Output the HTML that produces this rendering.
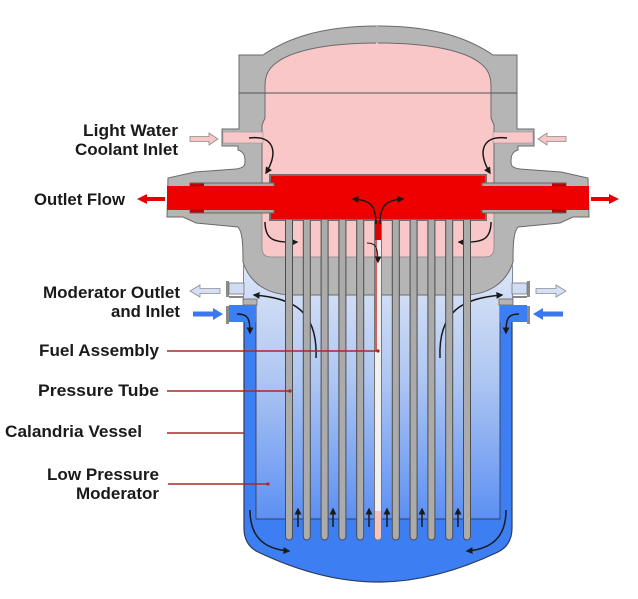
<!DOCTYPE html>
<html><head><meta charset="utf-8"><style>
html,body{margin:0;padding:0;background:#fff;}
svg{display:block;}
text{font-family:"Liberation Sans",Arial,sans-serif;font-weight:bold;font-size:17px;fill:#1a1a1a;}
</style></head><body>
<svg width="638" height="599" viewBox="0 0 638 599" xmlns="http://www.w3.org/2000/svg">
<defs>
<linearGradient id="mod" gradientUnits="userSpaceOnUse" x1="0" y1="262" x2="0" y2="519">
<stop offset="0" stop-color="#dde6f6"/>
<stop offset="0.45" stop-color="#afc7f2"/>
<stop offset="1" stop-color="#5d90f3"/>
</linearGradient>
<marker id="ah" viewBox="0 0 10 10" refX="8" refY="5" markerWidth="7" markerHeight="7" markerUnits="userSpaceOnUse" orient="auto">
<path d="M0,0 L10,5 L0,10 z" fill="#1a1a1a"/>
</marker>
<g id="halfA">
 <path d="M380,26 L378,26 C318,26 285,40 263,55 L239,55 L239,129 L222,129 L222,146 L238,146 L238,150 C245,152 245,158 245,162 C245,167 242,168 236,169 L195,172 L168,178 L167,217 L183,217 L196,223 L238,227 C242,232 243,240 243,262 C250,284 268,294 290,295 L380,295 Z" fill="#b5b5b5"/>
 <path d="M378,26 C318,26 285,40 263,55 L239,55 L239,129 L222,129 L222,146 L238,146 L238,150 C245,152 245,158 245,162 C245,167 242,168 236,169 L195,172 L168,178 L167,217 L183,217 L196,223 L238,227 C242,232 243,240 243,262 C250,284 268,294 290,295 L378,295" fill="none" stroke="#6a6a6a" stroke-width="1"/>
 <path d="M380,43 L378,43 C322,43 290,52 276,63 C268,69 265,76 265,86 L265,118 L262,125 L262,183 L380,183 Z" fill="#f9c7c7"/>
 <path d="M378,43 C322,43 290,52 276,63 C268,69 265,76 265,86 L265,118 L262,125 L262,183" fill="none" stroke="#6a6a6a" stroke-width="1"/>
 <rect x="223" y="132" width="40" height="11" fill="#f9c7c7" stroke="#9a9a9a" stroke-width="0.6"/>
</g>
<g id="halfB">
 <rect x="190" y="183" width="84" height="30" fill="#a9a9a9" stroke="#666" stroke-width="1"/>
 <rect x="167" y="186" width="108" height="24" fill="#ee0000"/>
 <rect x="190" y="183.5" width="14" height="3" fill="#c00000"/>
 <rect x="190" y="209.5" width="14" height="3" fill="#c00000"/>
 <rect x="243" y="299" width="14" height="6" fill="#b5b5b5" stroke="#666" stroke-width="0.8"/>
 <rect x="229" y="296" width="14" height="2" fill="#888"/>
 <rect x="226" y="281" width="3" height="16" fill="#8a8a8a"/>
 <rect x="229" y="283" width="15" height="11" fill="#cfdcf3" stroke="#777" stroke-width="0.8"/>
 <rect x="226" y="306" width="3" height="18" fill="#8a8a8a"/>
 <rect x="229" y="305" width="27" height="17" fill="#3b7ff2"/>
 <polygon points="190,136.5 209,136.5 209,133 218,139 209,145 209,141.5 190,141.5" fill="#f9c7c7" stroke="#8a8a8a" stroke-width="0.8"/>
 <polygon points="165,197 147,197 147,194 137,199 147,204 147,201 165,201" fill="#e60000"/>
 <polygon points="220,288.5 200,288.5 200,285 190,291 200,297 200,293.5 220,293.5" fill="#d5e0f3" stroke="#8a8a9a" stroke-width="0.8"/>
 <polygon points="193,311.5 213,311.5 213,308 223,314 213,320 213,316.5 193,316.5" fill="#3b78ee"/>
 <g fill="none" stroke="#1a1a1a" stroke-width="1.5" marker-end="url(#ah)">
  <path d="M249,138 C274,135 279,152 266,173"/>
  <path d="M265,222 C265,240 274,243 297,242"/>
  <path d="M316,358 C318,310 292,298 254,295"/>
  <path d="M237,314 C248,314 250,318 250,333"/>
  <path d="M250,510 C250,536 263,549 289,551"/>
 </g>
</g>
</defs>

<!-- calandria vessel -->
<path d="M244,262 L244,528 Q244,545 258,552 C300,572 340,582 378,582 C416,582 456,572 498,552 Q512,545 512,528 L512,262 Z" fill="#3d7ff3" stroke="#2a3a5a" stroke-width="1.2"/>
<path d="M244,262 H512 V303 H500 V519 H256 V303 H244 Z" fill="url(#mod)"/>
<path d="M256,303 V519 H500 V303" fill="none" stroke="#33405a" stroke-width="0.9"/>

<!-- upper body -->
<use href="#halfA"/>
<use href="#halfA" transform="translate(756,0) scale(-1,1)"/>
<line x1="239" y1="93" x2="517" y2="93" stroke="#555" stroke-width="1"/>

<!-- lower plenum -->
<path d="M262,212 L262,248 Q262,257 271,257 L485,257 Q494,257 494,248 L494,212 Z" fill="#f9c7c7" stroke="#888" stroke-width="0.8"/>

<!-- header -->
<rect x="270" y="175" width="216" height="45" fill="#ee0000" stroke="#707070" stroke-width="2"/>
<use href="#halfB"/>
<use href="#halfB" transform="translate(756,0) scale(-1,1)"/>

<!-- tubes -->
<g fill="#ababab" stroke="#4d4d4d" stroke-width="1">
 <path d="M285.5,220 V536.5 A3.5,3.5 0 0 0 292.5,536.5 V220"/>
 <path d="M303.3,220 V536.5 A3.5,3.5 0 0 0 310.3,536.5 V220"/>
 <path d="M321.1,220 V536.5 A3.5,3.5 0 0 0 328.1,536.5 V220"/>
 <path d="M338.9,220 V536.5 A3.5,3.5 0 0 0 345.9,536.5 V220"/>
 <path d="M356.7,220 V536.5 A3.5,3.5 0 0 0 363.7,536.5 V220"/>
 <path d="M392.3,220 V536.5 A3.5,3.5 0 0 0 399.3,536.5 V220"/>
 <path d="M410.1,220 V536.5 A3.5,3.5 0 0 0 417.1,536.5 V220"/>
 <path d="M427.9,220 V536.5 A3.5,3.5 0 0 0 434.9,536.5 V220"/>
 <path d="M445.7,220 V536.5 A3.5,3.5 0 0 0 452.7,536.5 V220"/>
 <path d="M463.5,220 V536.5 A3.5,3.5 0 0 0 470.5,536.5 V220"/>
</g>
<path d="M374.5,220 V536.5 A3.5,3.5 0 0 0 381.5,536.5 V220" fill="#f0f0f0" stroke="#777" stroke-width="1"/>
<rect x="375" y="220" width="6" height="20" fill="#e00000"/>
<path d="M375,511 H381 V536.5 A3,3 0 0 1 375,536.5 Z" fill="#f6c4c0"/>
<line x1="376" y1="240" x2="376" y2="351" stroke="#c00000" stroke-width="1.2"/>

<!-- center arrows -->
<g fill="none" stroke="#1a1a1a" stroke-width="1.5" marker-end="url(#ah)">
 <path d="M376,224 C376,205 370,200 353,199"/>
 <path d="M380,224 C380,205 386,200 403,199"/>
 <path d="M367,243 C375,243 378,246 378,262" stroke-width="1"/>
 <path d="M298,527 V509"/>
 <path d="M333,527 V509"/>
 <path d="M369,527 V509"/>
 <path d="M387,527 V509"/>
 <path d="M422,527 V509"/>
 <path d="M458,527 V509"/>
</g>

<!-- label lines -->
<g stroke="#a52a2a" stroke-width="1.4" fill="none">
 <path d="M167,351 H378"/>
 <path d="M167,391 H290"/>
 <path d="M167,433 H244"/>
 <path d="M168,484 H268"/>
</g>
<circle cx="378" cy="351" r="1.6" fill="#a52a2a"/>
<circle cx="290" cy="391" r="1.6" fill="#a52a2a"/>
<circle cx="268" cy="484" r="1.6" fill="#a52a2a"/>

<!-- labels -->
<text x="178" y="136" text-anchor="end" textLength="95" lengthAdjust="spacingAndGlyphs">Light Water</text>
<text x="178" y="155" text-anchor="end" textLength="103" lengthAdjust="spacingAndGlyphs">Coolant Inlet</text>
<text x="34" y="205" textLength="91" lengthAdjust="spacingAndGlyphs">Outlet Flow</text>
<text x="180" y="298" text-anchor="end" textLength="137" lengthAdjust="spacingAndGlyphs">Moderator Outlet</text>
<text x="180" y="317" text-anchor="end" textLength="69" lengthAdjust="spacingAndGlyphs">and Inlet</text>
<text x="159" y="356" text-anchor="end" textLength="120" lengthAdjust="spacingAndGlyphs">Fuel Assembly</text>
<text x="159" y="396" text-anchor="end" textLength="121" lengthAdjust="spacingAndGlyphs">Pressure Tube</text>
<text x="5" y="437" textLength="137" lengthAdjust="spacingAndGlyphs">Calandria Vessel</text>
<text x="159" y="480" text-anchor="end" textLength="112" lengthAdjust="spacingAndGlyphs">Low Pressure</text>
<text x="159" y="499" text-anchor="end" textLength="83" lengthAdjust="spacingAndGlyphs">Moderator</text>
</svg>
</body></html>
